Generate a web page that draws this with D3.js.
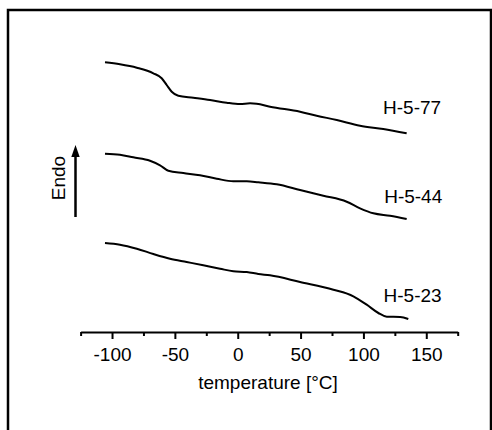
<!DOCTYPE html>
<html>
<head>
<meta charset="utf-8">
<script src="https://cdn.jsdelivr.net/npm/d3@7"></script>
<style>
  html, body { margin: 0; padding: 0; background: #fff; }
  svg { display: block; }
</style>
</head>
<body>
<svg id="chart" width="492" height="430"></svg>
<script>
// DSC traces, heat flow in arbitrary units (offset per sample)
const temps77 = [-105.6, -93.7, -80.3, -67.1, -60.5, -56.5, -52.5, -47.3, -35.3, -22, -8.8, 1.8, 9.8, 15, 25.7, 49.6, 62.8, 78.8, 97.3, 115.8, 134.4]
const flow77  = [269.7, 267.7, 264.3, 258.7, 253.7, 247, 240.3, 236.3, 234.3, 232, 229.3, 228, 228.7, 228.3, 225.3, 220.3, 216.3, 212, 206.3, 203, 198.7]

const temps44 = [-105.6, -93.7, -83.1, -69.8, -61.8, -55.2, -43.3, -30, -16.7, -3.5, 7.2, 16.4, 31, 49.6, 68.1, 86.7, 97.3, 107.9, 121.2, 134.4]
const flow44  = [178.3, 177.3, 174.7, 171.3, 166.7, 161.3, 159, 156.7, 153.3, 150.7, 150.7, 149.7, 147.7, 142, 136.3, 130.3, 123.7, 118.7, 116.3, 113]

const temps23 = [-105.6, -93.7, -80.3, -67.1, -53.9, -40.6, -27.4, -14.1, -3.5, 7.2, 16.4, 25.7, 49.6, 76.1, 92, 102.6, 111.9, 118.6, 129.2, 135.7]
const flow23  = [89, 87.3, 83.3, 78, 73.3, 70, 66.7, 63.3, 60.7, 60, 58, 56.7, 50, 42.3, 35.7, 27.3, 19, 15.3, 15, 13]

const sampleNames = ['H-5-77', 'H-5-44', 'H-5-23']
const majorTicks = [-100, -50, 0, 50, 100, 150]
const minorTicks = [-125, -75, -25, 25, 75, 125, 175]
const xTitle = 'temperature [°C]'
const yTitle = 'Endo'

const series = [
  { name: sampleNames[0], t: temps77, v: flow77 },
  { name: sampleNames[1], t: temps44, v: flow44 },
  { name: sampleNames[2], t: temps23, v: flow23 }
]
// where the sample labels sit (data coords)
const labelPos = [[115.6, 218], [116.5, 129.5], [116, 30.5]]

const font = '"Liberation Sans", Arial, Helvetica, sans-serif'
const svg = d3.select('#chart').attr('font-family', font)

// outer frame
svg.append('rect')
  .attr('x', 8).attr('y', 10)
  .attr('width', 483).attr('height', 440)
  .attr('fill', 'none')
  .attr('stroke', '#000')
  .attr('stroke-width', 2.5)

const x = d3.scaleLinear().domain([-125, 175]).range([80.6, 457.7])
const y = d3.scaleLinear().domain([0, 280]).range([332, 52])

const line = d3.line()
  .x(d => x(d[0]))
  .y(d => y(d[1]))
  .curve(d3.curveMonotoneX)

svg.append('g')
  .selectAll('path')
  .data(series)
  .join('path')
  .attr('d', s => line(s.t.map((t, i) => [t, s.v[i]])))
  .attr('fill', 'none')
  .attr('stroke', '#000')
  .attr('stroke-width', 2)
  .attr('stroke-linejoin', 'round')

svg.append('g')
  .selectAll('text')
  .data(series)
  .join('text')
  .attr('x', (s, i) => x(labelPos[i][0]))
  .attr('y', (s, i) => y(labelPos[i][1]))
  .attr('font-size', 19)
  .attr('fill', '#000')
  .text(s => s.name)

// x axis: minor ticks first, then major ticks with labels
const axisG = svg.append('g').attr('transform', `translate(0,${y(0)})`)

axisG.append('g')
  .call(d3.axisBottom(x).tickValues(minorTicks).tickSize(4).tickSizeOuter(0).tickFormat(''))
  .call(g => g.select('.domain').remove())
  .call(g => g.selectAll('line').attr('stroke-width', 2))

axisG.append('g')
  .call(d3.axisBottom(x).tickValues(majorTicks).tickSize(7).tickSizeOuter(0).tickPadding(8.5)
    .tickFormat(d => String(d)))   // plain hyphen, not unicode minus
  .call(g => g.select('.domain').attr('stroke-width', 2))
  .call(g => g.selectAll('line').attr('stroke-width', 2))
  .call(g => g.selectAll('text')
    .attr('font-size', 19)
    .attr('font-family', font)
    .attr('fill', '#000'))

svg.append('text')
  .attr('x', 268)
  .attr('y', 389)
  .attr('text-anchor', 'middle')
  .attr('font-size', 19)
  .text(xTitle)

// "Endo" with upward arrow
svg.append('text')
  .attr('transform', 'translate(64.5,178) rotate(-90)')
  .attr('text-anchor', 'middle')
  .attr('font-size', 19)
  .text(yTitle)

svg.append('line')
  .attr('x1', 75.5).attr('x2', 75.5)
  .attr('y1', 217).attr('y2', 154)
  .attr('stroke', '#000')
  .attr('stroke-width', 2.5)

svg.append('path')
  .attr('d', 'M75.5,145 L71.3,157 L79.7,157 Z')
  .attr('fill', '#000')
</script>
</body>
</html>
